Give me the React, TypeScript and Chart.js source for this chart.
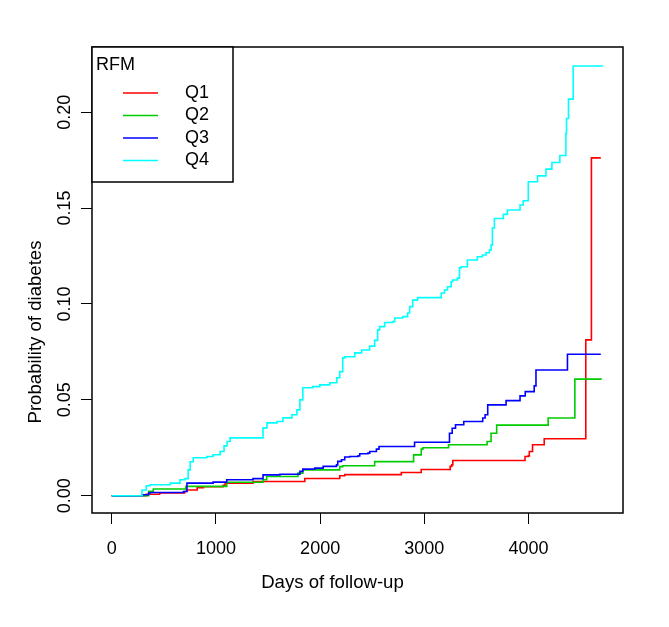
import React, { useEffect, useRef } from "react";
import { Chart, registerables } from "chart.js";

Chart.register(...registerables);

// ---- data ----
const seriesLabels = ["Q1", "Q2", "Q3", "Q4"];
const seriesColors = ["#FF0000", "#00CD00", "#0000FF", "#00FFFF"];
const legendTitle = "RFM";
const xTitle = "Days of follow-up";
const yTitle = "Probability of diabetes";

const xTicks = [0, 1000, 2000, 3000, 4000];
const yTicks = [0, 0.05, 0.1, 0.15, 0.2];
const xMin = -189;
const xMax = 4906;
const yMin = -0.009;
const yMax = 0.234;

const q1Days = [0, 330, 460, 700, 720, 820, 880, 1069, 1088, 1356, 1853, 2188, 2236, 2779, 2970, 3248, 3263, 3273, 3966, 3997, 4007, 4038, 4150, 4549, 4603, 4693];
const q1Prob = [0, 0.0008, 0.0015, 0.0022, 0.003, 0.0042, 0.0047, 0.0055, 0.0066, 0.0074, 0.009, 0.0104, 0.011, 0.0121, 0.0137, 0.0153, 0.0161, 0.0184, 0.0205, 0.0208, 0.0231, 0.0266, 0.0297, 0.0813, 0.1762, 0.1762];

const q2Days = [0, 354, 399, 712, 1104, 1452, 1487, 1787, 1834, 2188, 2217, 2523, 2897, 2970, 2986, 3232, 3602, 3640, 3694, 4188, 4444, 4702];
const q2Prob = [0, 0.0023, 0.0035, 0.0049, 0.007, 0.0083, 0.01, 0.0118, 0.0135, 0.0152, 0.0156, 0.0178, 0.0213, 0.0243, 0.025, 0.0266, 0.0283, 0.0326, 0.0368, 0.0405, 0.0608, 0.0608];

const q3Days = [0, 291, 354, 370, 689, 722, 973, 1104, 1356, 1452, 1614, 1806, 1834, 1949, 2029, 2157, 2169, 2205, 2236, 2284, 2364, 2380, 2459, 2476, 2540, 2565, 2906, 3241, 3267, 3299, 3378, 3560, 3583, 3608, 3784, 3918, 3968, 4054, 4071, 4373, 4693];
const q3Prob = [0, 0.0005, 0.0014, 0.0017, 0.0022, 0.0066, 0.0071, 0.0083, 0.0089, 0.0109, 0.0112, 0.0127, 0.0139, 0.0144, 0.0153, 0.0161, 0.0179, 0.0188, 0.0202, 0.0205, 0.0208, 0.0219, 0.0222, 0.0231, 0.0243, 0.0257, 0.0279, 0.0326, 0.0352, 0.037, 0.0387, 0.0405, 0.0422, 0.0474, 0.0496, 0.0521, 0.0543, 0.0573, 0.0656, 0.0738, 0.0738];

const q4Days = [0, 291, 332, 370, 562, 656, 703, 734, 753, 782, 913, 973, 1040, 1078, 1107, 1136, 1452, 1490, 1586, 1643, 1729, 1777, 1806, 1834, 1930, 1997, 2093, 2160, 2188, 2217, 2236, 2332, 2398, 2475, 2523, 2552, 2571, 2619, 2696, 2715, 2792, 2840, 2859, 2888, 2935, 3162, 3193, 3222, 3257, 3270, 3318, 3337, 3353, 3413, 3509, 3557, 3592, 3624, 3640, 3653, 3672, 3758, 3797, 3918, 3949, 3997, 4086, 4167, 4224, 4300, 4358, 4364, 4383, 4428, 4715];
const q4Prob = [0, 0.003, 0.0052, 0.0057, 0.0066, 0.0083, 0.0089, 0.0135, 0.0177, 0.0198, 0.0205, 0.0214, 0.0231, 0.026, 0.0283, 0.0302, 0.0354, 0.038, 0.0387, 0.0406, 0.0422, 0.0448, 0.05, 0.0563, 0.0569, 0.0578, 0.0589, 0.0615, 0.0647, 0.0719, 0.0725, 0.0745, 0.076, 0.078, 0.081, 0.0865, 0.0882, 0.0903, 0.0908, 0.0927, 0.0934, 0.0953, 0.0986, 0.102, 0.1033, 0.1057, 0.1073, 0.109, 0.1116, 0.1125, 0.1135, 0.1188, 0.1194, 0.1229, 0.1246, 0.1255, 0.1267, 0.1281, 0.1307, 0.1396, 0.1446, 0.1467, 0.149, 0.1516, 0.1538, 0.1637, 0.1668, 0.1703, 0.1738, 0.1774, 0.1889, 0.1967, 0.2068, 0.2241, 0.2241];

const seriesDays = [q1Days, q2Days, q3Days, q4Days];
const seriesProb = [q1Prob, q2Prob, q3Prob, q4Prob];

const FONT = "'Liberation Sans', Arial, Helvetica, sans-serif";

export default function App() {
  const ref = useRef<HTMLCanvasElement>(null);

  useEffect(() => {
    document.body.style.margin = "0";
    const canvas = ref.current;
    if (!canvas) return;

    const datasets = seriesLabels.map((label, i) => ({
      label,
      data: seriesDays[i].map((d, j) => ({ x: d, y: seriesProb[i][j] })),
      borderColor: seriesColors[i],
      backgroundColor: seriesColors[i],
      borderWidth: 1.6,
      pointRadius: 0,
      stepped: "before" as const,
      fill: false,
      order: seriesLabels.length - i,
    }));

    const framePlugin = {
      id: "rFrame",
      afterDraw(chart: any) {
        const { ctx, chartArea: a } = chart;
        ctx.save();
        // plot box
        ctx.strokeStyle = "#000";
        ctx.lineWidth = 1.5;
        ctx.strokeRect(a.left, a.top, a.right - a.left, a.bottom - a.top);

        // legend box
        const lx = a.left;
        const ly = a.top;
        const lw = 141;
        const lh = 135;
        ctx.fillStyle = "#fff";
        ctx.fillRect(lx, ly, lw, lh);
        ctx.strokeRect(lx, ly, lw, lh);
        ctx.font = `18px ${FONT}`;
        ctx.fillStyle = "#000";
        ctx.textBaseline = "middle";
        ctx.textAlign = "left";
        ctx.fillText(legendTitle, lx + 4, ly + 18);
        chart.data.datasets.forEach((ds: any, i: number) => {
          const y = ly + 46 + i * 22.5;
          ctx.strokeStyle = ds.borderColor;
          ctx.lineWidth = 1.6;
          ctx.beginPath();
          ctx.moveTo(lx + 31, y);
          ctx.lineTo(lx + 66, y);
          ctx.stroke();
          ctx.fillStyle = "#000";
          ctx.fillText(ds.label, lx + 93, y);
        });

        // axis titles
        ctx.font = `18.6px ${FONT}`;
        ctx.textAlign = "center";
        ctx.fillText(xTitle, (a.left + a.right) / 2 - 25, a.bottom + 70);
        ctx.translate(a.left - 56, (a.top + a.bottom) / 2 + 52);
        ctx.rotate(-Math.PI / 2);
        ctx.fillText(yTitle, 0, 0);
        ctx.restore();
      },
    };

    const chart = new Chart(canvas, {
      type: "line",
      data: { datasets },
      options: {
        animation: false,
        responsive: false,
        maintainAspectRatio: false,
        layout: { padding: { top: 47, right: 46, left: 0, bottom: 0 } },
        plugins: { legend: { display: false }, tooltip: { enabled: false } },
        scales: {
          x: {
            type: "linear",
            min: xMin,
            max: xMax,
            afterBuildTicks: (s: any) => {
              s.ticks = xTicks.map((v) => ({ value: v }));
            },
            afterFit: (s: any) => {
              s.height = 114;
            },
            grid: { drawOnChartArea: false, drawTicks: true, tickLength: 11, color: "#000", lineWidth: 1 },
            border: { display: false },
            ticks: {
              font: { family: FONT, size: 18 },
              color: "#000",
              padding: 14,
              maxRotation: 0,
              autoSkip: false,
              callback: (v: any) => String(v),
            },
          },
          y: {
            type: "linear",
            min: yMin,
            max: yMax,
            afterBuildTicks: (s: any) => {
              s.ticks = yTicks.map((v) => ({ value: v }));
            },
            afterFit: (s: any) => {
              s.width = 92;
            },
            grid: { drawOnChartArea: false, drawTicks: true, tickLength: 11, color: "#000", lineWidth: 1 },
            border: { display: false },
            ticks: {
              font: { family: FONT, size: 18 },
              color: "#000",
              padding: -2,
              minRotation: 90,
              maxRotation: 90,
              crossAlign: "center",
              autoSkip: false,
              callback: (v: any) => Number(v).toFixed(2),
            },
          },
        },
      },
      plugins: [framePlugin],
    } as any);

    return () => chart.destroy();
  }, []);

  return <canvas ref={ref} width={669} height={627} style={{ display: "block" }} />;
}
